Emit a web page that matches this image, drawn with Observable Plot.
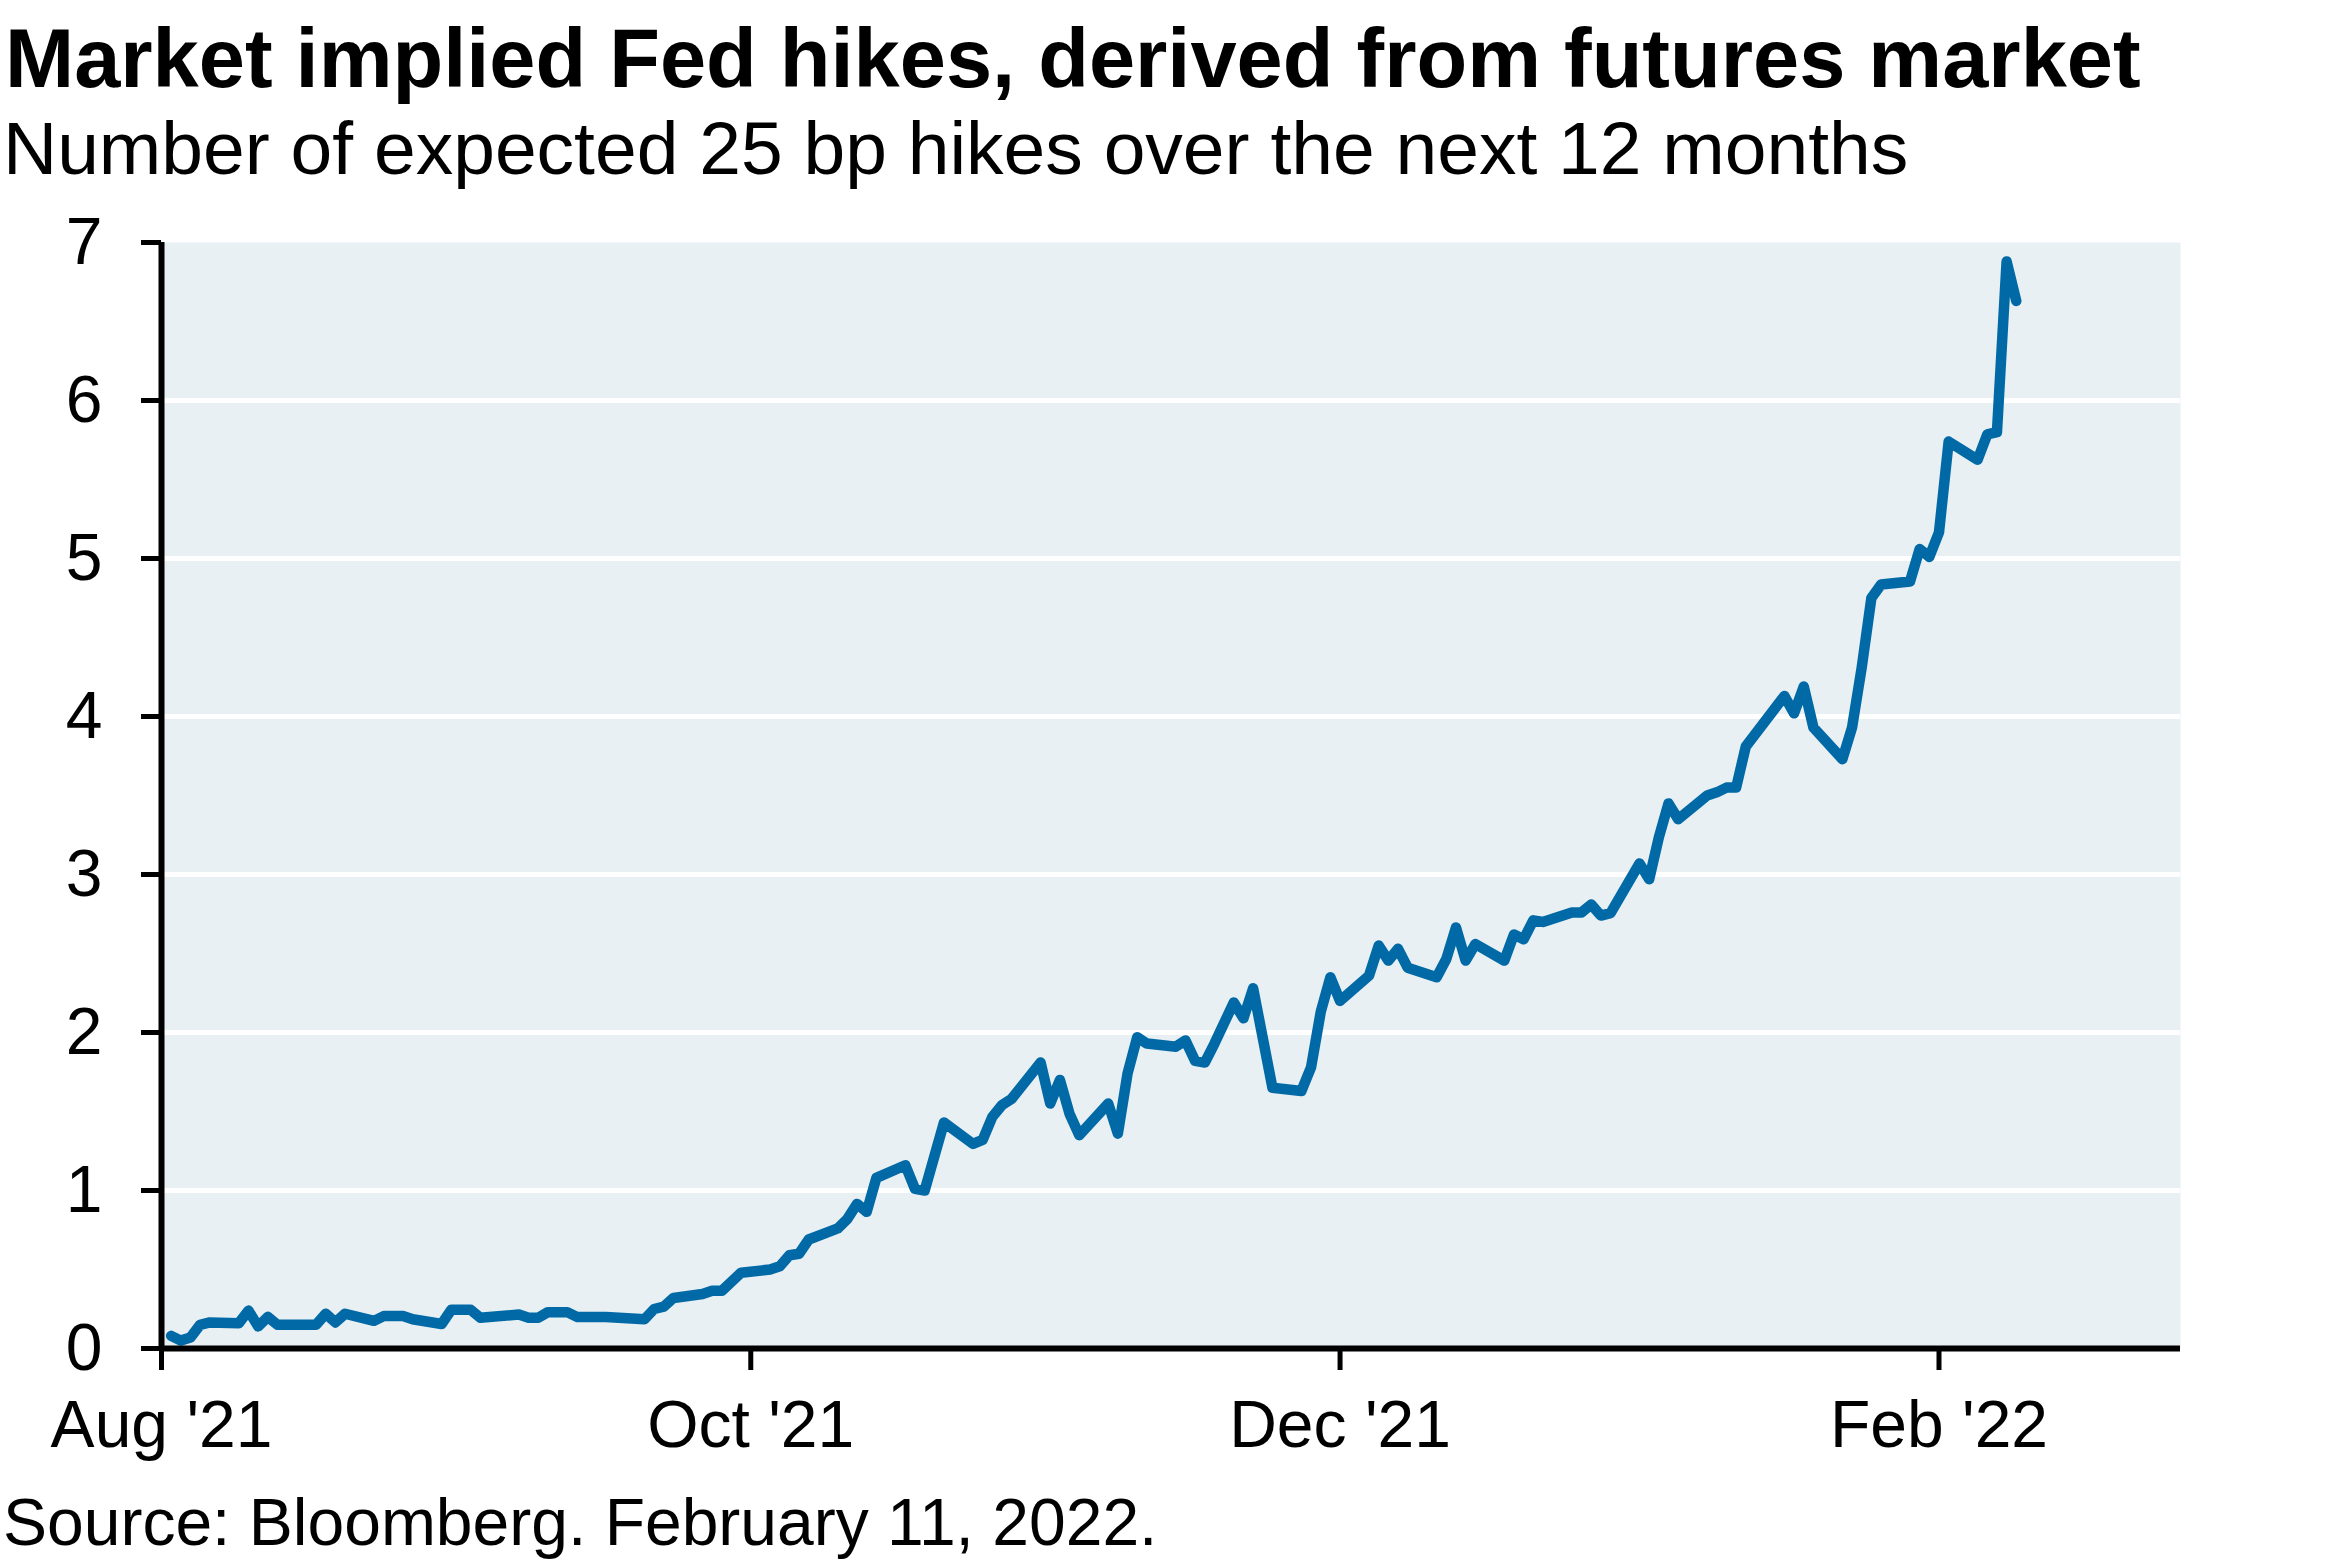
<!DOCTYPE html>
<html>
<head>
<meta charset="utf-8">
<script src="https://cdn.jsdelivr.net/npm/d3@7"></script>
<script src="https://cdn.jsdelivr.net/npm/@observablehq/plot@0.6"></script>
<style>
  html, body { margin: 0; padding: 0; background: #fff; }
  #wrap { position: relative; width: 2341px; height: 1561px; overflow: hidden; font-family: "Liberation Sans", Arial, sans-serif; color: #000; }
  .t { position: absolute; left: 5px; white-space: nowrap; line-height: 1; }
  #title { top: 17px; font-size: 83px; font-weight: bold; }
  #subtitle { top: 111px; font-size: 75px; left: 3px; }
  #caption { top: 1489px; font-size: 66px; left: 3px; }
  #chart { position: absolute; left: 0; top: 200px; }
</style>
</head>
<body>
<div id="wrap">
  <div class="t" id="title">Market implied Fed hikes, derived from futures market</div>
  <div class="t" id="subtitle">Number of expected 25 bp hikes over the next 12 months</div>
  <div id="chart"></div>
  <div class="t" id="caption">Source: Bloomberg. February 11, 2022.</div>
</div>
<script>
const dates = [
  "2021-08-02","2021-08-03","2021-08-04","2021-08-05","2021-08-06","2021-08-09","2021-08-10","2021-08-11",
  "2021-08-12","2021-08-13","2021-08-17","2021-08-18","2021-08-19","2021-08-20","2021-08-23","2021-08-24",
  "2021-08-26","2021-08-27","2021-08-30","2021-08-31","2021-09-02","2021-09-03","2021-09-07","2021-09-08",
  "2021-09-09","2021-09-10","2021-09-12","2021-09-13","2021-09-16","2021-09-20","2021-09-21","2021-09-22",
  "2021-09-23","2021-09-26","2021-09-27","2021-09-28","2021-09-30","2021-10-03","2021-10-04","2021-10-05",
  "2021-10-06","2021-10-07","2021-10-10","2021-10-11","2021-10-12","2021-10-13","2021-10-14","2021-10-17",
  "2021-10-18","2021-10-19","2021-10-21","2021-10-24","2021-10-25","2021-10-26","2021-10-27","2021-10-28",
  "2021-10-31","2021-11-01","2021-11-02","2021-11-03","2021-11-04","2021-11-07","2021-11-08","2021-11-09",
  "2021-11-10","2021-11-11","2021-11-14","2021-11-15","2021-11-16","2021-11-17","2021-11-18","2021-11-20",
  "2021-11-21","2021-11-22","2021-11-24","2021-11-27","2021-11-28","2021-11-29","2021-11-30","2021-12-01",
  "2021-12-04","2021-12-05","2021-12-06","2021-12-07","2021-12-08","2021-12-11","2021-12-12","2021-12-13",
  "2021-12-14","2021-12-15","2021-12-18","2021-12-19","2021-12-20","2021-12-21","2021-12-22","2021-12-25",
  "2021-12-26","2021-12-27","2021-12-28","2021-12-29","2022-01-01","2022-01-02","2022-01-03","2022-01-04",
  "2022-01-05","2022-01-08","2022-01-09","2022-01-10","2022-01-11","2022-01-12","2022-01-16","2022-01-17",
  "2022-01-18","2022-01-19","2022-01-22","2022-01-23","2022-01-24","2022-01-25","2022-01-26","2022-01-29",
  "2022-01-30","2022-01-31","2022-02-01","2022-02-02","2022-02-05","2022-02-06","2022-02-07","2022-02-08",
  "2022-02-09"
];
// Number of expected 25 bp hikes over the next 12 months
const hikes = [
  0.08,0.05,0.07,0.15,0.165,0.16,0.24,0.14,
  0.20,0.15,0.15,0.22,0.165,0.22,0.175,0.205,
  0.205,0.185,0.155,0.245,0.245,0.195,0.215,0.195,
  0.195,0.23,0.23,0.20,0.20,0.185,0.25,0.265,
  0.32,0.345,0.365,0.365,0.48,0.50,0.52,0.59,
  0.60,0.69,0.76,0.82,0.915,0.865,1.08,1.16,
  1.01,1.00,1.43,1.295,1.32,1.465,1.54,1.58,
  1.81,1.55,1.70,1.485,1.35,1.55,1.36,1.74,
  1.97,1.93,1.91,1.95,1.82,1.81,1.93,2.19,
  2.09,2.28,1.65,1.63,1.78,2.13,2.35,2.20,
  2.36,2.55,2.455,2.53,2.41,2.35,2.465,2.665,
  2.455,2.56,2.455,2.62,2.59,2.71,2.70,2.76,
  2.76,2.81,2.74,2.755,3.07,2.97,3.235,3.45,
  3.35,3.50,3.52,3.55,3.55,3.81,4.13,4.02,
  4.19,3.93,3.73,3.93,4.31,4.75,4.835,4.855,
  5.06,5.01,5.165,5.74,5.625,5.785,5.80,6.88,
  6.63
];
const xTicks = ["2021-08-01","2021-10-01","2021-12-01","2022-02-01"];
const xTickLabels = ["Aug '21","Oct '21","Dec '21","Feb '22"];
const xDomain = ["2021-08-01","2022-02-26"];
const yTicks = [0,1,2,3,4,5,6,7];
const yTickLabels = ["0","1","2","3","4","5","6","7"];
const gridValues = [1,2,3,4,5,6];

const data = dates.map((d, i) => ({date: new Date(d), value: hikes[i]}));
const xt = xTicks.map(d => new Date(d));

const font = '"Liberation Sans", Arial, sans-serif';
const chart = Plot.plot({
  width: 2341,
  height: 1290,
  marginLeft: 161,
  marginRight: 161,
  marginTop: 42,
  marginBottom: 142,
  style: {fontFamily: font, fontSize: "66px", color: "#000", background: "transparent", overflow: "visible"},
  x: {type: "utc", domain: xDomain.map(d => new Date(d))},
  y: {domain: [0, 7]},
  marks: [
    Plot.frame({fill: "#e8f0f3", stroke: null}),
    Plot.ruleY(gridValues, {stroke: "#ffffff", strokeWidth: 5}),
    Plot.lineY(data, {x: "date", y: "value", stroke: "#0069a6", strokeWidth: 10.5,
      strokeLinejoin: "round", strokeLinecap: "round"}),
    Plot.ruleY([0], {stroke: "#000", strokeWidth: 6}),
    Plot.ruleX([xt[0]], {y1: 0, y2: 7, stroke: "#000", strokeWidth: 6}),
    Plot.axisX({ticks: xt, tickFormat: (d, i) => xTickLabels[i], tickSize: 22, tickPadding: 30,
      strokeWidth: 5, fontSize: 66, fill: "#000", stroke: "#000", label: null}),
    Plot.axisY({ticks: yTicks, tickFormat: (d, i) => yTickLabels[i], tickSize: 20, tickPadding: 39, strokeWidth: 5,
      fontSize: 66, fill: "#000", stroke: "#000", label: null})
  ]
});
document.getElementById("chart").appendChild(chart);
</script>
</body>
</html>
